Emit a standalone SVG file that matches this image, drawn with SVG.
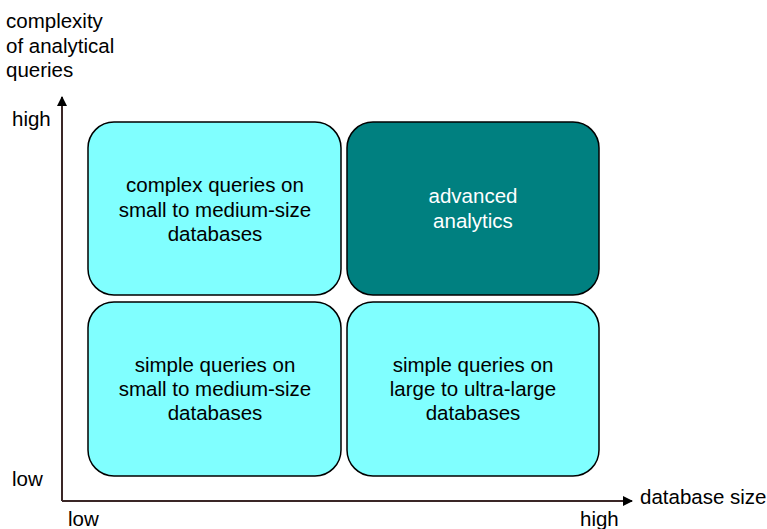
<svg xmlns="http://www.w3.org/2000/svg" width="767" height="529" viewBox="0 0 767 529">
  <style>
    text { font-family: "Liberation Sans", Arial, sans-serif; font-size: 20.5px; fill: #000; }
    .c { text-anchor: middle; }
    .light { fill: #80ffff; stroke: #000; stroke-width: 1.5; }
    .dark { fill: #008080; stroke: #000; stroke-width: 1.5; }
    .w { fill: #fff; }
    .axis { stroke: #3a2626; stroke-width: 2; fill: none; }
  </style>
  <defs>
    <marker id="arr" viewBox="0 0 10 10" refX="9" refY="5" markerWidth="5" markerHeight="5" orient="auto">
      <path d="M0,0 L10,5 L0,10 z" fill="#000"/>
    </marker>
  </defs>

  <g id="axis-labels">
    <text x="6" y="28">complexity</text>
    <text x="6" y="53">of analytical</text>
    <text x="6" y="77">queries</text>
    <text x="12" y="126">high</text>
    <text x="12" y="486">low</text>
    <text x="68" y="526">low</text>
    <text x="580" y="526">high</text>
    <text x="640" y="504">database size</text>
  </g>

  <g id="connectors">
    <path class="axis" d="M62,501 L62,97" marker-end="url(#arr)"/>
    <path class="axis" d="M62,501 L632,501" marker-end="url(#arr)"/>
  </g>

  <g id="complex-small">
    <rect class="light" x="88" y="122" width="253" height="173" rx="26"/>
    <text class="c" x="215" y="192">complex queries on</text>
    <text class="c" x="215" y="217">small to medium-size</text>
    <text class="c" x="215" y="241">databases</text>
  </g>

  <g id="advanced">
    <rect class="dark" x="347" y="122" width="252" height="173" rx="26"/>
    <text class="c w" x="473" y="203">advanced</text>
    <text class="c w" x="473" y="228">analytics</text>
  </g>

  <g id="simple-small">
    <rect class="light" x="88" y="302" width="253" height="174" rx="26"/>
    <text class="c" x="215" y="372">simple queries on</text>
    <text class="c" x="215" y="396">small to medium-size</text>
    <text class="c" x="215" y="420">databases</text>
  </g>

  <g id="simple-large">
    <rect class="light" x="347" y="302" width="252" height="174" rx="26"/>
    <text class="c" x="473" y="372">simple queries on</text>
    <text class="c" x="473" y="396">large to ultra-large</text>
    <text class="c" x="473" y="420">databases</text>
  </g>
</svg>
